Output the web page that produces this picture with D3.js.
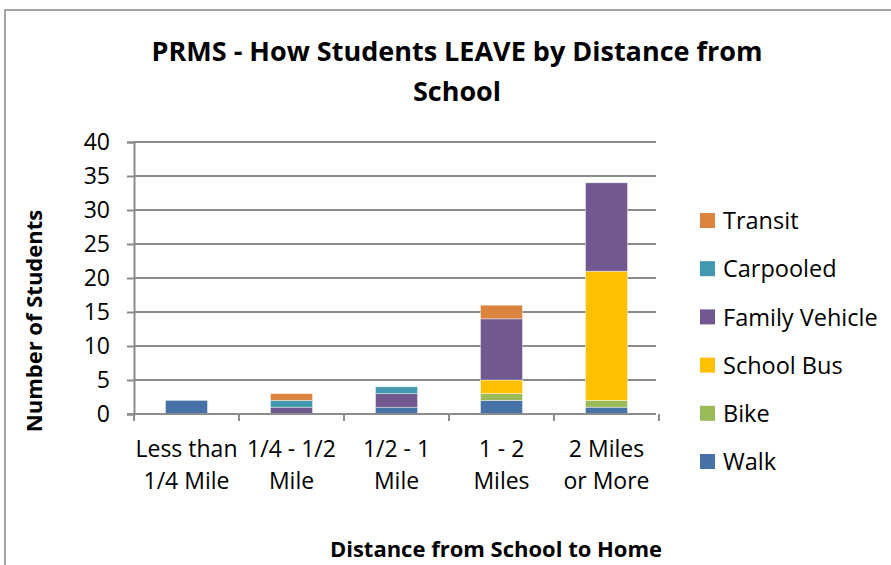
<!DOCTYPE html>
<html>
<head>
<meta charset="utf-8">
<script src="https://cdn.jsdelivr.net/npm/d3@7"></script>
<style>
  body { margin: 0; background: #fff; }
  svg text { font-family: "Open Sans", Lato, sans-serif; fill: #000; }
</style>
</head>
<body>
<svg id="chart" width="891" height="565"></svg>
<script>
// data
const categories = [["Less than", "1/4 Mile"], ["1/4 - 1/2", "Mile"], ["1/2 - 1", "Mile"], ["1 - 2", "Miles"], ["2 Miles", "or More"]];
const modes = ["Walk", "Bike", "School Bus", "Family Vehicle", "Carpooled", "Transit"];
const walk = [2, 0, 1, 2, 1];
const bike = [0, 0, 0, 1, 1];
const schoolBus = [0, 0, 0, 2, 19];
const familyVehicle = [0, 1, 2, 9, 13];
const carpooled = [0, 1, 1, 0, 0];
const transit = [0, 1, 0, 2, 0];
const yTicks = [0, 5, 10, 15, 20, 25, 30, 35, 40];

const colors = {
  "Walk": "#4672a8",
  "Bike": "#9bbb59",
  "School Bus": "#ffc000",
  "Family Vehicle": "#71588f",
  "Carpooled": "#4198af",
  "Transit": "#db843d"
};

const series = [walk, bike, schoolBus, familyVehicle, carpooled, transit];
const rows = categories.map((c, i) => {
  const r = { key: i };
  modes.forEach((m, j) => r[m] = series[j][i]);
  return r;
});
const stacked = d3.stack().keys(modes)(rows);

const svg = d3.select('#chart');
const plotLeft = 134, plotRight = 659, plotTop = 142, plotBottom = 414;

// outer frame
svg.append('rect')
  .attr('x', 5).attr('y', 10).attr('width', 900).attr('height', 570)
  .attr('fill', 'none').attr('stroke', '#868686').attr('stroke-width', 1.5);

const x = d3.scaleBand().domain(d3.range(categories.length)).range([plotLeft, plotRight]).paddingInner(0.6).paddingOuter(0.3);
const y = d3.scaleLinear().domain([0, 40]).range([plotBottom, plotTop]);

// gridlines
svg.append('g').selectAll('line')
  .data(yTicks.slice(1))
  .enter().append('line')
  .attr('x1', plotLeft).attr('x2', plotRight - 3)
  .attr('y1', d => y(d)).attr('y2', d => y(d))
  .attr('stroke', '#8c8c8c').attr('stroke-width', 2);

// bars
svg.append('g').selectAll('g')
  .data(stacked)
  .enter().append('g')
  .attr('fill', d => colors[d.key])
  .selectAll('rect')
  .data(d => d.filter(p => p[1] > p[0]))
  .enter().append('rect')
  .attr('x', d => x(d.data.key))
  .attr('width', x.bandwidth())
  .attr('y', d => y(d[1]))
  .attr('height', d => y(d[0]) - y(d[1]))
  .attr('stroke', 'rgba(255,255,255,0.5)')
  .attr('stroke-width', 0.8);

// y axis
const yAxis = svg.append('g')
  .attr('transform', `translate(${plotLeft},0)`)
  .call(d3.axisLeft(y).tickValues(yTicks).tickSize(7).tickPadding(17));
yAxis.select('.domain').attr('stroke', '#8c8c8c').attr('stroke-width', 2);
yAxis.selectAll('.tick line').attr('stroke', '#8c8c8c').attr('stroke-width', 2);
yAxis.selectAll('.tick text').style('font-size', '23px').attr('dy', '0.34em');

// x axis
const step = (plotRight - plotLeft) / categories.length;
const xAxis = svg.append('g').attr('transform', `translate(0,${plotBottom})`);
xAxis.append('line')
  .attr('x1', plotLeft - 7).attr('x2', plotRight - 3)
  .attr('stroke', '#8c8c8c').attr('stroke-width', 2);
xAxis.selectAll('line.tk')
  .data(d3.range(categories.length + 1))
  .enter().append('line').attr('class', 'tk')
  .attr('x1', d => plotLeft + d * step).attr('x2', d => plotLeft + d * step)
  .attr('y1', 0).attr('y2', 7)
  .attr('stroke', '#8c8c8c').attr('stroke-width', 2);
xAxis.selectAll('text.lbl')
  .data(categories)
  .enter().append('text').attr('class', 'lbl')
  .attr('x', (d, i) => x(i) + x.bandwidth() / 2)
  .attr('text-anchor', 'middle')
  .style('font-size', '23px')
  .selectAll('tspan')
  .data(d => d)
  .enter().append('tspan')
  .attr('x', function () { return d3.select(this.parentNode).attr('x'); })
  .attr('y', (d, i) => 43 + i * 32)
  .text(d => d);

// titles
svg.append('text')
  .attr('x', 457).attr('text-anchor', 'middle')
  .style('font-size', '27px').style('font-weight', 'bold')
  .selectAll('tspan')
  .data(["PRMS - How Students LEAVE by Distance from", "School"])
  .enter().append('tspan')
  .attr('x', 457).attr('y', (d, i) => 61 + i * 40)
  .text(d => d);

svg.append('text')
  .attr('x', 496).attr('y', 557).attr('text-anchor', 'middle')
  .style('font-size', '22px').style('font-weight', 'bold')
  .text('Distance from School to Home');

svg.append('text')
  .attr('transform', 'translate(42,321) rotate(-90)')
  .attr('text-anchor', 'middle')
  .style('font-size', '22px').style('font-weight', 'bold')
  .text('Number of Students');

// legend
const legend = svg.append('g').selectAll('g')
  .data(modes.slice().reverse())
  .enter().append('g')
  .attr('transform', (d, i) => `translate(700,${213 + i * 48.2})`);
legend.append('rect')
  .attr('width', 15).attr('height', 15)
  .attr('fill', d => colors[d]);
legend.append('text')
  .attr('x', 23).attr('y', 8).attr('dy', '0.35em')
  .style('font-size', '23.5px')
  .text(d => d);
</script>
</body>
</html>
